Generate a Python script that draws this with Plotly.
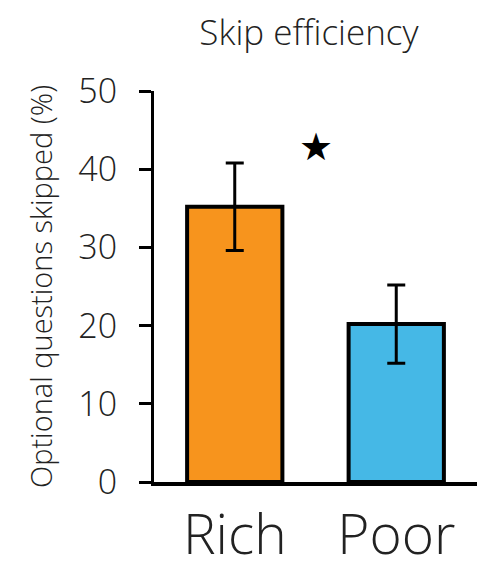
import plotly.graph_objects as go

categories = ["Rich", "Poor"]
values = [35.2, 20.2]
errors = [5.6, 5.0]
colors = ["#F7941D", "#45B8E6"]
y_ticks = [0, 10, 20, 30, 40, 50]
star_pos = (0.5, 42.8)

FONT = "Open Sans"

fig = go.Figure()
fig.add_trace(go.Bar(
    x=categories, y=values,
    width=0.59,
    marker=dict(color=colors, line=dict(color="black", width=4)),
    error_y=dict(type="data", array=errors, visible=True, color="black", thickness=3, width=9),
    showlegend=False,
))
fig.add_annotation(x=star_pos[0], y=star_pos[1], xref="x", yref="y", text="★",
                   showarrow=False, font=dict(size=38, color="black", family="DejaVu Sans"))

fig.update_layout(
    width=485, height=563,
    margin=dict(l=154, r=8, t=91, b=81),
    plot_bgcolor="white", paper_bgcolor="white",
    title=dict(text="Skip efficiency", x=0.637, xanchor="center", y=0.942, yanchor="middle",
               font=dict(family=FONT, size=35, color="#222", weight=300)),
    font=dict(family=FONT, color="#222"),
)
fig.update_xaxes(
    range=[-0.5, 1.5], showline=True, linewidth=4, linecolor="black",
    ticks="", showgrid=False, zeroline=False, automargin=False,
    tickfont=dict(family=FONT, size=55, color="#222", weight=300),
    ticklabelstandoff=2,
)
fig.update_yaxes(
    range=[0, 50], tickvals=y_ticks, showline=True, linewidth=3, linecolor="black",
    ticks="outside", ticklen=12, tickwidth=3, tickcolor="black",
    showgrid=False, zeroline=False, automargin=False,
    ticklabelstandoff=15,
    tickfont=dict(family=FONT, size=34, color="#222", weight=300),
    title=dict(text="Optional questions skipped (%)", standoff=18,
               font=dict(family=FONT, size=29, color="#222", weight=300)),
)
fig.write_html("out.html")
